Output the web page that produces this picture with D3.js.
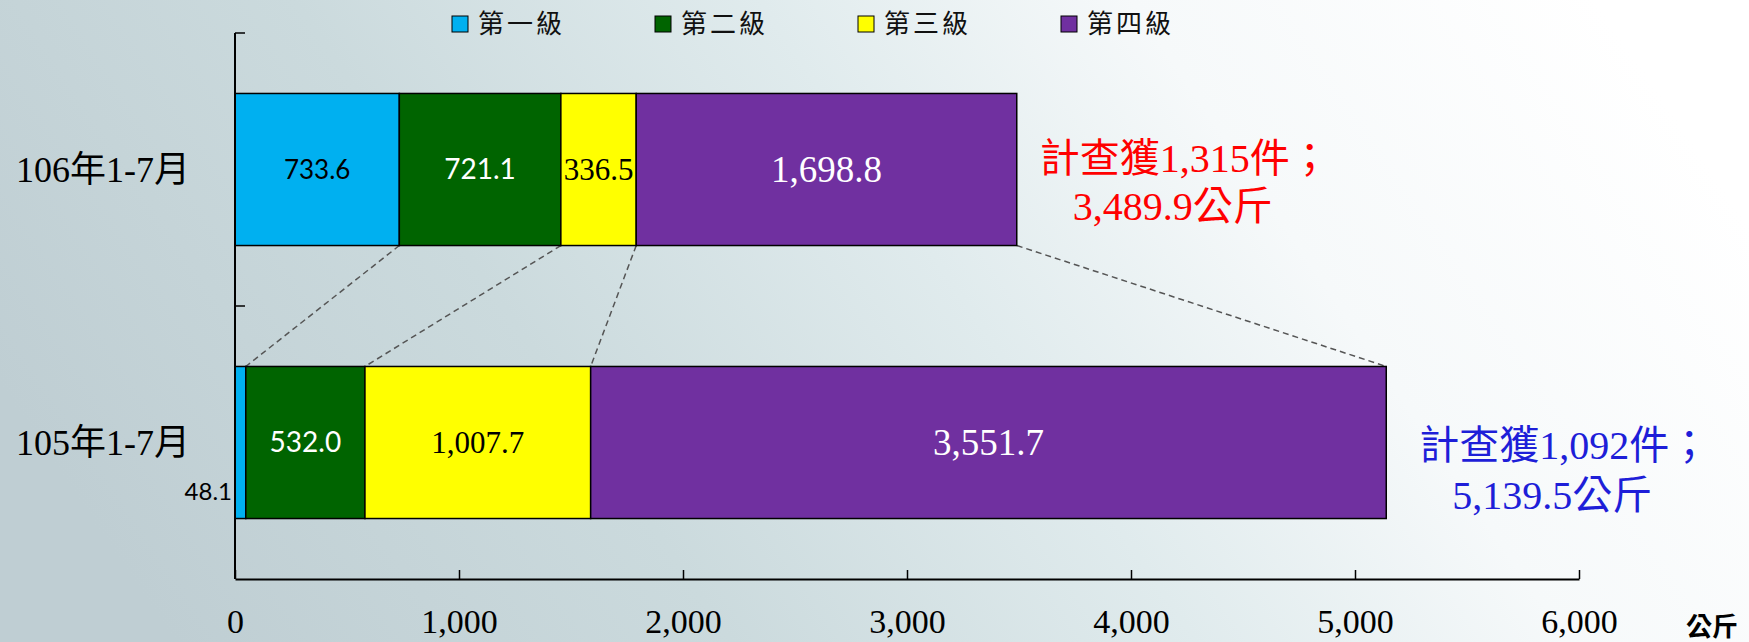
<!DOCTYPE html>
<html>
<head>
<meta charset="utf-8">
<script src="https://cdn.jsdelivr.net/npm/d3@7"></script>
<style>
  html, body { margin: 0; padding: 0; }
  body { width: 1749px; height: 642px; overflow: hidden; }
  svg { display: block; }
</style>
</head>
<body>
<div id="chart"></div>
<script>
/**
 * DATA
 * */
const categories = ["106年1-7月", "105年1-7月"];
const seriesNames = ["第一級", "第二級", "第三級", "第四級"];
const values106 = [733.6, 721.1, 336.5, 1698.8];
const values105 = [48.1, 532.0, 1007.7, 3551.7];
const caseCounts = [1315, 1092];
const totalKg = [3489.9, 5139.5];
const xTicks = [0, 1000, 2000, 3000, 4000, 5000, 6000];
const unitLabel = "公斤";

/**
 * CONSTANTS
 * */
const width = 1749, height = 642;
const colors = ["#00B0F0", "#006400", "#FFFF00", "#7030A0"];
const serif = "'Liberation Serif', 'Times New Roman', 'Noto Sans CJK TC', serif";
const sans = "Lato, 'Noto Sans', sans-serif";
const cjk = "'Noto Sans CJK TC', 'Noto Sans', sans-serif";

const svg = d3.select("#chart")
  .append("svg")
  .attr("width", width)
  .attr("height", height);

// background wash
const defs = svg.append("defs");
const grad = defs.append("linearGradient")
  .attr("id", "bg")
  .attr("x1", 0).attr("y1", 0.6)
  .attr("x2", 1).attr("y2", 0.35);
[["0", "#bfced3"], ["0.3", "#cbdadd"], ["0.55", "#e0ebed"], ["0.75", "#f6f9fa"], ["1", "#ffffff"]]
  .forEach(s => grad.append("stop").attr("offset", s[0]).attr("stop-color", s[1]));
svg.append("rect").attr("width", width).attr("height", height).attr("fill", "url(#bg)");

// scales
const x = d3.scaleLinear().domain([0, 6000]).range([235, 1579]);
const y = d3.scaleBand()
  .domain(categories)
  .range([33, 579])
  .paddingInner(0.443)
  .paddingOuter(0.2215);

// stacked rows
const rows = categories.map((c, i) => {
  const vals = i === 0 ? values106 : values105;
  const row = { cat: c };
  seriesNames.forEach((s, j) => row[s] = vals[j]);
  return row;
});
const stacked = d3.stack().keys(seriesNames)(rows);

// dashed connectors between the two bars (cumulative boundaries)
const connectors = seriesNames.map((s, j) => ({
  x1: x(stacked[j][0][1]),
  x2: x(stacked[j][1][1])
}));
svg.append("g")
  .selectAll("line")
  .data(connectors)
  .join("line")
  .attr("x1", d => d.x1)
  .attr("y1", y(categories[0]) + y.bandwidth())
  .attr("x2", d => d.x2)
  .attr("y2", y(categories[1]))
  .attr("stroke", "#555")
  .attr("stroke-width", 1.5)
  .attr("stroke-dasharray", "6,4");

// bars
const layer = svg.append("g")
  .selectAll("g")
  .data(stacked)
  .join("g")
  .attr("fill", (d, i) => colors[i]);

layer.selectAll("rect")
  .data(d => d)
  .join("rect")
  .attr("x", d => x(d[0]))
  .attr("y", d => y(d.data.cat))
  .attr("width", d => x(d[1]) - x(d[0]))
  .attr("height", y.bandwidth())
  .attr("stroke", "#000")
  .attr("stroke-width", 1.5);

// value labels
const fmt = d3.format(",.1f");
const labelStyle = [
  { font: sans, size: 26, fill: "#000" },
  { font: sans, size: 28, fill: "#fff" },
  { font: serif, size: 31, fill: "#000" },
  { font: serif, size: 37, fill: "#fff" }
];
stacked.forEach((ser, j) => {
  ser.forEach(d => {
    const w = x(d[1]) - x(d[0]);
    const st = labelStyle[j];
    const small = w < 30;
    svg.append("text")
      .attr("x", small ? x(d[0]) - 3 : (x(d[0]) + x(d[1])) / 2)
      .attr("y", small ? y(d.data.cat) + y.bandwidth() * 0.82 : y(d.data.cat) + y.bandwidth() / 2)
      .attr("dy", "0.35em")
      .attr("text-anchor", small ? "end" : "middle")
      .attr("font-family", st.font)
      .attr("font-size", small ? 24 : st.size)
      .attr("fill", small ? "#000" : st.fill)
      .text(fmt(d.data[seriesNames[j]]));
  });
});

// axes
const xAxis = svg.append("g")
  .attr("transform", `translate(0,${579})`)
  .call(d3.axisBottom(x).tickValues(xTicks).tickSizeInner(-9).tickSizeOuter(0).tickPadding(30).tickFormat(d3.format(",")));
xAxis.select(".domain").attr("stroke", "#000").attr("stroke-width", 2);
xAxis.selectAll(".tick line").attr("stroke", "#000").attr("stroke-width", 1.5);
xAxis.selectAll(".tick text")
  .attr("font-family", serif)
  .attr("font-size", 34)
  .attr("fill", "#000");

const yAxis = svg.append("g");
yAxis.append("line")
  .attr("x1", x(0)).attr("x2", x(0))
  .attr("y1", 33).attr("y2", 579)
  .attr("stroke", "#000").attr("stroke-width", 2);
// category boundary ticks
yAxis.selectAll(".cb")
  .data([33, y.step() + 33])
  .join("line")
  .attr("x1", x(0)).attr("x2", x(0) + 10)
  .attr("y1", d => d).attr("y2", d => d)
  .attr("stroke", "#000").attr("stroke-width", 1.5);
yAxis.selectAll("text")
  .data(categories)
  .join("text")
  .attr("x", 190)
  .attr("y", d => y(d) + y.bandwidth() / 2)
  .attr("dy", "0.35em")
  .attr("text-anchor", "end")
  .attr("font-family", serif)
  .attr("font-size", 36)
  .attr("fill", "#000")
  .text(d => d);

// unit label
svg.append("text")
  .attr("x", 1738)
  .attr("y", 627)
  .attr("dy", "0.35em")
  .attr("text-anchor", "end")
  .attr("font-family", cjk)
  .attr("font-weight", 700)
  .attr("font-size", 26)
  .attr("fill", "#000")
  .text(unitLabel);

// total annotations
const noteColors = ["#FF0000", "#1E1ED8"];
const noteLayout = [
  { dx: 168, dy1: -12, dy2: 36 },
  { dx: 178, dy1: 2, dy2: 52 }
];
categories.forEach((c, i) => {
  const cx = x(totalKg[i]) + noteLayout[i].dx;
  const cy = y(c) + y.bandwidth() / 2;
  const t = svg.append("text")
    .attr("text-anchor", "middle")
    .attr("font-family", serif)
    .attr("font-size", 40)
    .attr("fill", noteColors[i]);
  t.append("tspan")
    .attr("x", cx).attr("y", cy + noteLayout[i].dy1).attr("dy", "0.35em")
    .text(`計查獲${d3.format(",")(caseCounts[i])}件；`);
  t.append("tspan")
    .attr("x", cx - 12).attr("y", cy + noteLayout[i].dy2).attr("dy", "0.35em")
    .text(`${fmt(totalKg[i])}公斤`);
});

// legend
const lx = d3.scalePoint().domain(seriesNames).range([452, 1061]);
const legend = svg.append("g")
  .selectAll("g")
  .data(seriesNames)
  .join("g")
  .attr("transform", d => `translate(${lx(d)},16)`);
legend.append("rect")
  .attr("width", 16).attr("height", 16)
  .attr("fill", (d, i) => colors[i])
  .attr("stroke", "#000").attr("stroke-width", 1);
legend.append("text")
  .attr("x", 26).attr("y", 8).attr("dy", "0.36em")
  .attr("font-family", cjk)
  .attr("font-size", 26)
  .attr("letter-spacing", 3)
  .attr("fill", "#111")
  .text(d => d);
</script>
</body>
</html>
